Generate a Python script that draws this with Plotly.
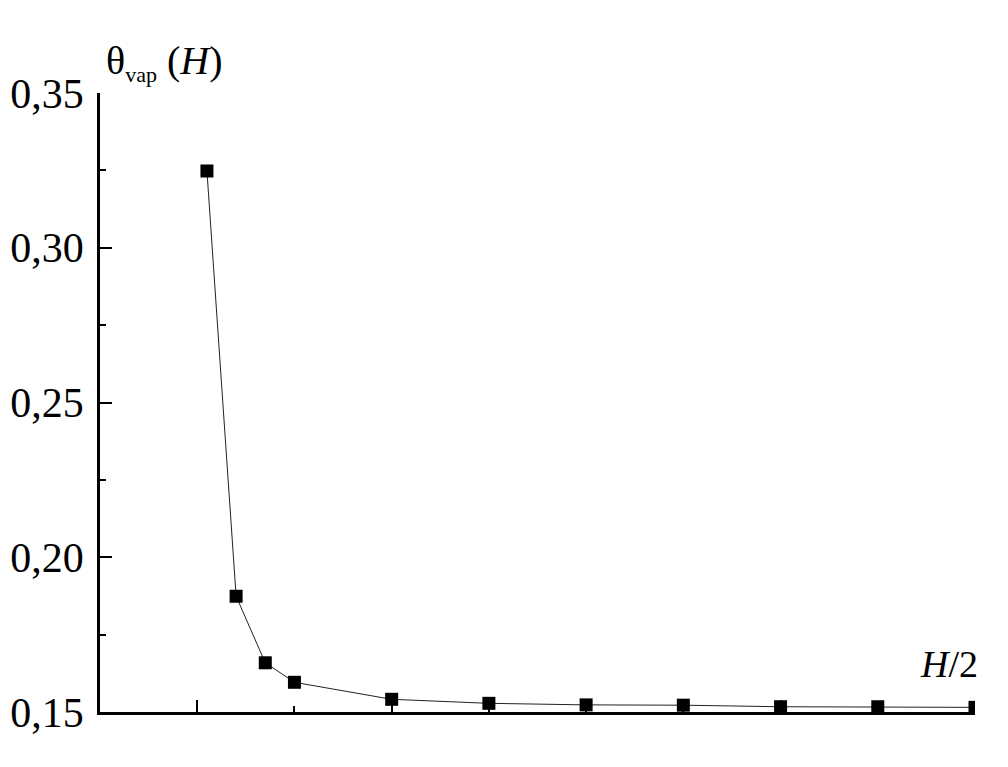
import plotly.graph_objects as go

# H/2 positions (axis units) and theta_vap values
h_half = [0.1, 0.4, 0.7, 1, 2, 3, 4, 5, 6, 7, 8]
theta_vap = [0.3248, 0.1874, 0.1659, 0.1596, 0.1541, 0.1528, 0.1523, 0.1522, 0.1517, 0.1517, 0.1515]

y_ticks = [0.15, 0.20, 0.25, 0.30, 0.35]

FONT = "Liberation Serif, Times New Roman, serif"

fig = go.Figure()

fig.add_trace(go.Scatter(
    x=h_half,
    y=theta_vap,
    mode="lines+markers",
    line=dict(color="#222", width=1),
    marker=dict(symbol="square", size=13, color="black"),
    showlegend=False,
    cliponaxis=True,
))

fig.update_xaxes(
    range=[-1, 8], automargin=False,
    showline=True, linecolor="black", linewidth=2.5,
    showgrid=False, zeroline=False,
    ticks="inside", tick0=0, dtick=2, ticklen=12, tickwidth=2, tickcolor="black",
    minor=dict(ticks="inside", dtick=1, ticklen=6, tickwidth=2, tickcolor="black"),
    showticklabels=False,
)

fig.update_yaxes(
    range=[0.15, 0.35], automargin=False,
    showline=True, linecolor="black", linewidth=2.5,
    showgrid=False, zeroline=False,
    ticks="inside", tickvals=y_ticks, tickformat=".2f",
    ticklen=12, tickwidth=2, tickcolor="black",
    minor=dict(ticks="inside", dtick=0.025, tick0=0.15, ticklen=6, tickwidth=2, tickcolor="black"),
    tickfont=dict(family=FONT, size=42, color="black"),
    ticklabelstandoff=5,
)

fig.add_annotation(
    xref="paper", yref="paper", x=0.004, y=1.05,
    xanchor="left", yanchor="middle",
    text="θ<sub><span style='font-size:22px'>vap</span></sub> (<i>H</i>)",
    showarrow=False,
    font=dict(family=FONT, size=40, color="black"),
)

fig.add_annotation(
    xref="paper", yref="paper", x=0.935, y=0.078,
    xanchor="left", yanchor="middle",
    text="<i>H</i>/2",
    showarrow=False,
    font=dict(family=FONT, size=38, color="black"),
)

fig.update_layout(
    width=1008, height=767,
    margin=dict(l=92, r=41, t=85, b=63),
    paper_bgcolor="white", plot_bgcolor="white",
    separators=", ",
)

fig.write_html("out.html")
